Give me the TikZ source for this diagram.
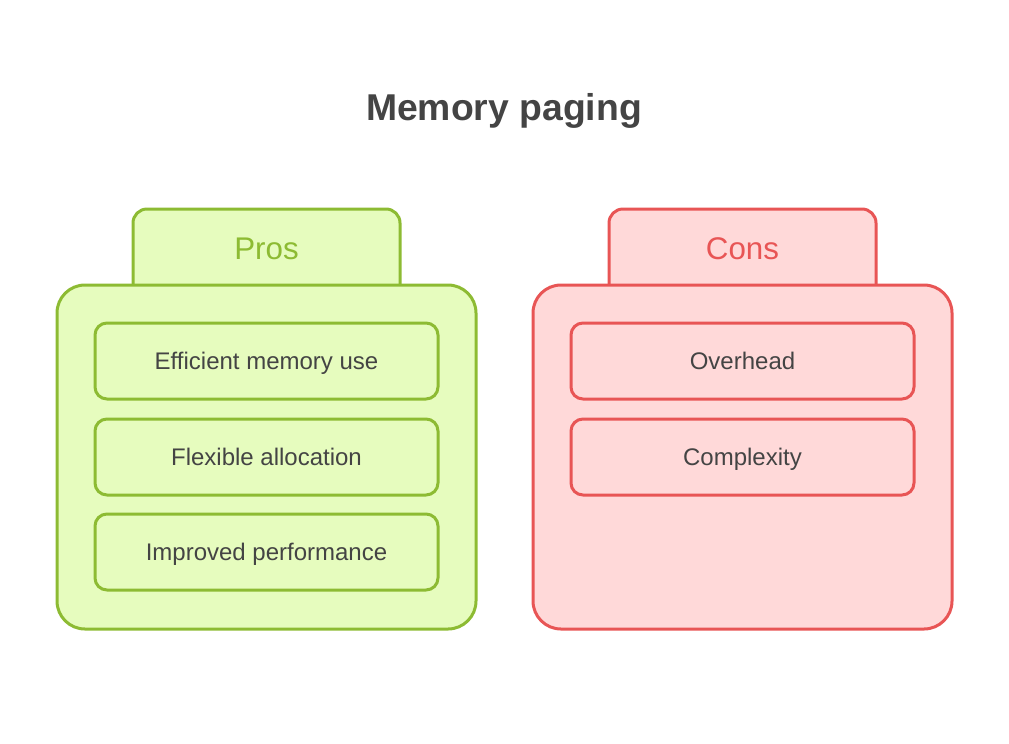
\documentclass[tikz,border=0pt]{standalone}
\usepackage{fontspec}
\setmainfont{Liberation Sans}
\usepackage{tikz}
\usetikzlibrary{positioning}

\definecolor{progreen}{HTML}{8DBB33}
\definecolor{profill}{HTML}{E6FCBE}
\definecolor{conred}{HTML}{E85555}
\definecolor{confill}{HTML}{FFD9D9}
\definecolor{textgray}{HTML}{444444}

\begin{document}
\begin{tikzpicture}[x=0.75pt,y=-0.75pt,
  tabline/.style={line width=2.25pt, rounded corners=10.5pt},
  bigbox/.style={draw, line width=2.25pt, rounded corners=21pt, minimum width=314.25pt, minimum height=258pt, inner sep=0pt},
  itembox/.style={draw, line width=2.25pt, rounded corners=9pt, minimum width=257.25pt, minimum height=57pt, inner sep=0pt, text height=15pt, text depth=2pt, text=textgray, font=\fontsize{18}{22}\selectfont},
  tabtext/.style={text height=19pt, text depth=3pt, font=\fontsize{23.5}{28}\selectfont}]
  \useasboundingbox (0,0) rectangle (1009,743);

  \node[text=textgray, text height=22pt, text depth=4pt, font=\bfseries\fontsize{28}{33}\selectfont] (title) at (504,108) {Memory paging};

  % pros
  \draw[tabline, draw=progreen, fill=profill] (133,300) |- (266,209) -| (400,300);
  \node[tabtext, text=progreen] (prostab) at (266.5,249) {Pros};
  \node[bigbox, draw=progreen, fill=profill] (probox) at (266.5,457) {};
  \node[itembox, draw=progreen, fill=profill] (pro1) at (266.5,361) {Efficient memory use};
  \node[itembox, draw=progreen, fill=profill] (pro2) at (266.5,457) {Flexible allocation};
  \node[itembox, draw=progreen, fill=profill] (pro3) at (266.5,552) {Improved performance};

  % cons
  \draw[tabline, draw=conred, fill=confill] (609,300) |- (742,209) -| (876,300);
  \node[tabtext, text=conred] (constab) at (742.5,249) {Cons};
  \node[bigbox, draw=conred, fill=confill] (conbox) at (742.5,457) {};
  \node[itembox, draw=conred, fill=confill] (con1) at (742.5,361) {Overhead};
  \node[itembox, draw=conred, fill=confill] (con2) at (742.5,457) {Complexity};
\end{tikzpicture}
\end{document}
